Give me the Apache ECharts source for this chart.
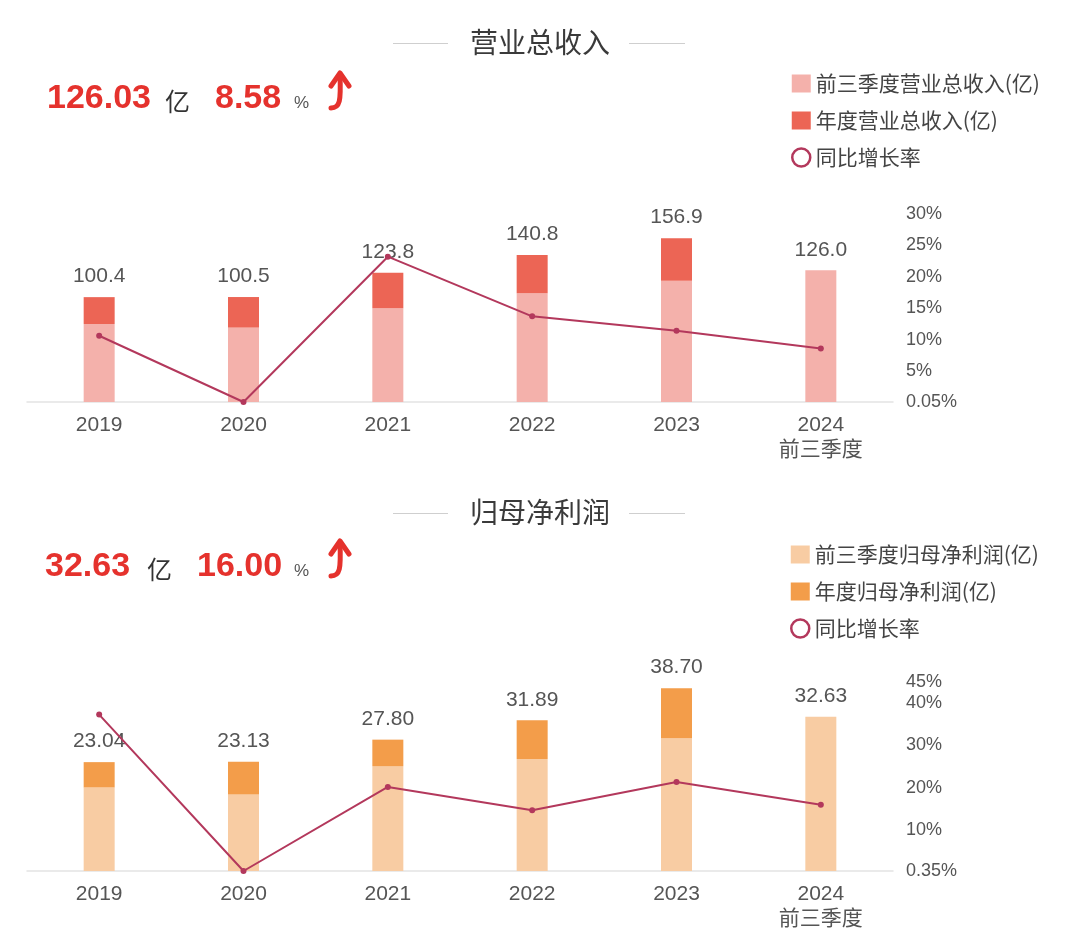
<!DOCTYPE html>
<html>
<head>
<meta charset="utf-8">
<script src="https://cdn.jsdelivr.net/npm/echarts@6/dist/echarts.min.js"></script>
<style>
html,body{margin:0;padding:0;background:#fff;}
#main{width:1080px;height:950px;}
</style>
</head>
<body>
<div id="main"></div>
<script>
// ---- data ----
var categories = ['2019', '2020', '2021', '2022', '2023', '2024\n前三季度'];

var revQ3 = [74.7, 71.2, 89.7, 104.1, 116.1, 126.03];
var revAnnual = [100.4, 100.5, 123.8, 140.8, 156.9, null];
var revGrowth = [10.6, 0.05, 23.2, 13.7, 11.4, 8.58];
var revRateTicks = [0.05, 5, 10, 15, 20, 25, 30];

var profitQ3 = [17.7, 16.2, 22.2, 23.7, 28.1, 32.63];
var profitAnnual = [23.04, 23.13, 27.80, 31.89, 38.70, null];
var profitGrowth = [37.3, 0.35, 20.2, 14.7, 21.4, 16.00];
var profitRateTicks = [0.35, 10, 20, 30, 40, 45];

var revSummary = ['126.03', '8.58'];
var profitSummary = ['32.63', '16.00'];

// ---- build ----
var FONT = '"Liberation Sans", "Noto Sans CJK SC", sans-serif';
var CJK = '"Noto Sans CJK SC", sans-serif';
var RED = '#e5322d';
var LINE = '#b3385c';

function rest(annual, q3) {
  return annual.map(function (a, i) { return a == null ? 0 : +(a - q3[i]).toFixed(3); });
}
function totalLabel(annual, q3, dec) {
  return function (p) {
    var v = annual[p.dataIndex] == null ? q3[p.dataIndex] : annual[p.dataIndex];
    return v.toFixed(dec);
  };
}

var chart = echarts.init(document.getElementById('main'));

function header(y, title) {
  return [
    { type: 'line', shape: { x1: 393, y1: y + 1.5, x2: 448, y2: y + 1.5 }, style: { stroke: '#cfcfcf', lineWidth: 1.2 } },
    { type: 'line', shape: { x1: 629, y1: y + 1.5, x2: 685, y2: y + 1.5 }, style: { stroke: '#cfcfcf', lineWidth: 1.2 } },
    { type: 'text', x: 540, y: y, style: { text: title, fill: '#3a3a3a', font: '28px ' + CJK, textAlign: 'center', textVerticalAlign: 'middle' } }
  ];
}
function summary(y, vals, xs) {
  return [
    { type: 'text', x: xs[0], y: y, style: { text: vals[0], fill: RED, font: 'bold 34px ' + FONT, textVerticalAlign: 'middle' } },
    { type: 'text', x: xs[1], y: y + 2, style: { text: '亿', fill: '#333', font: '25px ' + CJK, textVerticalAlign: 'middle' } },
    { type: 'text', x: xs[2], y: y, style: { text: vals[1], fill: RED, font: 'bold 34px ' + FONT, textVerticalAlign: 'middle' } },
    { type: 'text', x: 294, y: y + 4, style: { text: '%', fill: '#555', font: '17px ' + FONT, textVerticalAlign: 'middle' } },
    { type: 'polyline', shape: { points: [[331, y - 13], [340, y - 26], [349, y - 13]] }, style: { stroke: RED, lineWidth: 5, lineCap: 'round', lineJoin: 'round', fill: null } },
    { type: 'bezierCurve', shape: { x1: 340, y1: y - 24, x2: 331, y2: y + 9, cpx1: 341, cpy1: y + 2, cpx2: 340, cpy2: y + 9 }, style: { stroke: RED, lineWidth: 5, lineCap: 'round', fill: null } }
  ];
}

var rateLegend = { name: '同比增长率', icon: 'circle', itemStyle: { color: '#fff', borderColor: LINE, borderWidth: 2.5 } };

var option = {
  backgroundColor: '#fff',
  animation: false,
  graphic: [].concat(
    header(42, '营业总收入'),
    summary(99, revSummary, [47, 165, 215]),
    header(512, '归母净利润'),
    summary(567, profitSummary, [45, 147, 197])
  ),
  legend: [
    {
      orient: 'vertical', left: 786, top: 68, itemWidth: 19, itemHeight: 18, itemGap: 16,
      textStyle: { fontSize: 21, color: '#444', fontFamily: CJK },
      data: [
        { name: '前三季度营业总收入(亿)', icon: 'rect' },
        { name: '年度营业总收入(亿)', icon: 'rect' },
        rateLegend
      ]
    },
    {
      orient: 'vertical', left: 785, top: 539, itemWidth: 19, itemHeight: 18, itemGap: 16,
      textStyle: { fontSize: 21, color: '#444', fontFamily: CJK },
      data: [
        { name: '前三季度归母净利润(亿)', icon: 'rect' },
        { name: '年度归母净利润(亿)', icon: 'rect' },
        rateLegend
      ]
    }
  ],
  grid: [
    { left: 27, right: 187, top: 214, height: 188 },
    { left: 27, right: 187, top: 682, height: 189 }
  ],
  xAxis: [0, 1].map(function (g) {
    return {
      type: 'category', gridIndex: g, data: categories,
      axisLine: { lineStyle: { color: '#e3e3e3', width: 1.5 } },
      axisTick: { show: false },
      axisLabel: { fontSize: 21, color: '#555', fontFamily: FONT, lineHeight: 25, margin: 11 }
    };
  }),
  yAxis: [
    { type: 'value', gridIndex: 0, min: 0, max: 180, show: false, splitLine: { show: false } },
    {
      type: 'value', gridIndex: 0, position: 'right', min: revRateTicks[0], max: revRateTicks[revRateTicks.length - 1],
      axisLine: { show: false }, axisTick: { show: false }, splitLine: { show: false },
      axisLabel: { customValues: revRateTicks, showMinLabel: true, showMaxLabel: true, margin: 13, fontSize: 18, color: '#555', fontFamily: FONT, formatter: function (v) { return v + '%'; } }
    },
    { type: 'value', gridIndex: 1, min: 0, max: 40, show: false, splitLine: { show: false } },
    {
      type: 'value', gridIndex: 1, position: 'right', min: profitRateTicks[0], max: profitRateTicks[profitRateTicks.length - 1],
      axisLine: { show: false }, axisTick: { show: false }, splitLine: { show: false },
      axisLabel: { customValues: profitRateTicks, showMinLabel: true, showMaxLabel: true, margin: 13, fontSize: 18, color: '#555', fontFamily: FONT, formatter: function (v) { return v + '%'; } }
    }
  ],
  series: [
    {
      name: '前三季度营业总收入(亿)', type: 'bar', stack: 'rev', xAxisIndex: 0, yAxisIndex: 0,
      barWidth: 31, itemStyle: { color: '#f4b1ab' }, data: revQ3
    },
    {
      name: '年度营业总收入(亿)', type: 'bar', stack: 'rev', xAxisIndex: 0, yAxisIndex: 0,
      barWidth: 31, itemStyle: { color: '#ec6555' }, data: rest(revAnnual, revQ3),
      label: { show: true, position: 'top', distance: 10, fontSize: 21, color: '#555', fontFamily: FONT, formatter: totalLabel(revAnnual, revQ3, 1) }
    },
    {
      name: '同比增长率', type: 'line', xAxisIndex: 0, yAxisIndex: 1, z: 5,
      symbol: 'circle', symbolSize: 6, lineStyle: { color: LINE, width: 2 }, itemStyle: { color: LINE },
      data: revGrowth
    },
    {
      name: '前三季度归母净利润(亿)', type: 'bar', stack: 'profit', xAxisIndex: 1, yAxisIndex: 2,
      barWidth: 31, itemStyle: { color: '#f8cca3' }, data: profitQ3
    },
    {
      name: '年度归母净利润(亿)', type: 'bar', stack: 'profit', xAxisIndex: 1, yAxisIndex: 2,
      barWidth: 31, itemStyle: { color: '#f39d4a' }, data: rest(profitAnnual, profitQ3),
      label: { show: true, position: 'top', distance: 10, fontSize: 21, color: '#555', fontFamily: FONT, formatter: totalLabel(profitAnnual, profitQ3, 2) }
    },
    {
      name: '同比增长率', type: 'line', xAxisIndex: 1, yAxisIndex: 3, z: 5,
      symbol: 'circle', symbolSize: 6, lineStyle: { color: LINE, width: 2 }, itemStyle: { color: LINE },
      data: profitGrowth
    }
  ]
};
chart.setOption(option);
</script>
</body>
</html>
